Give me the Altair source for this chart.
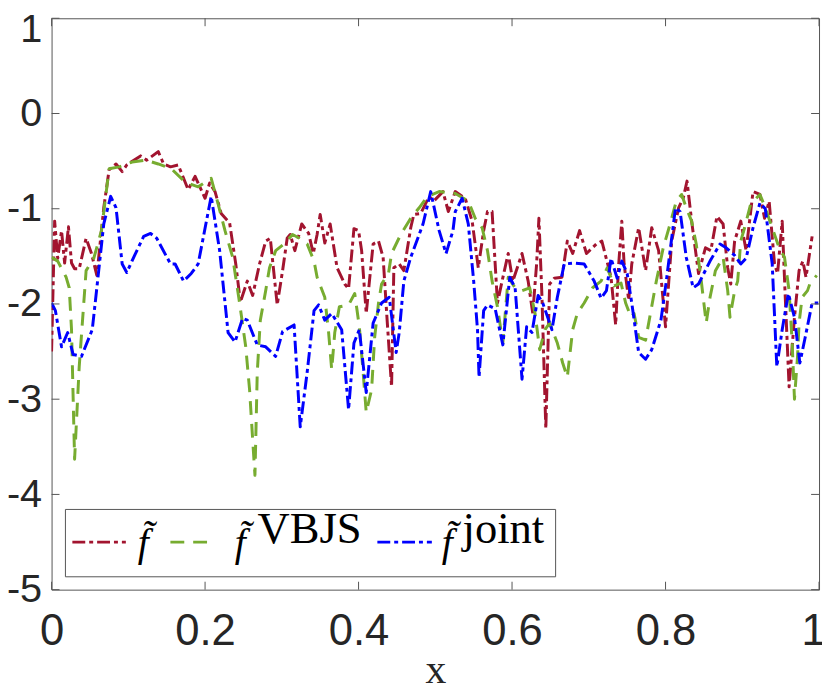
import altair as alt
import pandas as pd

# ---- data ----
red_pts = [(0.000,-2.50),(0.004,-1.13),(0.008,-1.52),(0.013,-1.23),(0.017,-1.57),(0.022,-1.19),(0.026,-1.57),
 (0.030,-1.63),(0.036,-1.63),(0.045,-1.31),(0.052,-1.47),(0.059,-1.70),(0.068,-0.99),(0.075,-0.59),(0.084,-0.53),
 (0.092,-0.61),(0.098,-0.54),(0.116,-0.445),(0.124,-0.49),(0.139,-0.40),(0.146,-0.53),(0.155,-0.56),(0.165,-0.54),
 (0.178,-0.80),(0.187,-0.66),(0.200,-0.89),(0.206,-0.73),(0.213,-0.82),(0.221,-1.05),(0.232,-1.15),(0.240,-1.58),
 (0.246,-1.98),(0.255,-1.76),(0.262,-1.91),(0.271,-1.58),(0.279,-1.34),(0.285,-1.31),(0.294,-2.01),(0.301,-1.65),
 (0.307,-1.31),(0.311,-1.27),(0.317,-1.44),(0.326,-1.16),(0.335,-1.26),(0.341,-1.47),(0.346,-1.27),(0.350,-1.06),
 (0.356,-1.36),(0.363,-1.16),(0.372,-1.62),(0.382,-1.79),(0.387,-1.84),(0.394,-1.21),(0.400,-1.23),(0.404,-1.44),
 (0.410,-2.10),(0.419,-1.37),(0.426,-1.34),(0.432,-1.51),(0.437,-2.14),(0.443,-2.87),(0.446,-1.62),(0.453,-1.58),
 (0.459,-1.65),(0.468,-1.20),(0.472,-1.06),(0.481,-1.05),(0.492,-0.87),(0.498,-0.92),(0.510,-0.82),(0.517,-1.03),
 (0.526,-0.82),(0.539,-0.89),(0.548,-1.13),(0.556,-1.62),(0.563,-1.23),(0.568,-1.03),(0.574,-1.03),(0.581,-1.99),
 (0.587,-1.76),(0.595,-1.47),(0.601,-1.76),(0.613,-1.47),(0.621,-1.76),(0.627,-2.10),(0.632,-1.58),(0.635,-1.10),
 (0.639,-1.93),(0.644,-3.31),(0.649,-1.79),(0.655,-1.73),(0.665,-1.72),(0.672,-1.34),(0.679,-1.47),(0.688,-1.23),
 (0.697,-1.47),(0.710,-1.37),(0.717,-1.34),(0.729,-1.72),(0.735,-2.22),(0.739,-1.58),(0.743,-1.13),(0.746,-1.58),
 (0.752,-1.96),(0.756,-1.58),(0.765,-1.20),(0.774,-1.65),(0.782,-1.20),(0.791,-1.44),(0.800,-2.24),(0.808,-1.34),
 (0.817,-0.99),(0.823,-0.89),(0.828,-0.71),(0.834,-1.13),(0.843,-1.68),(0.852,-1.41),(0.859,-1.44),(0.867,-1.08),
 (0.875,-1.16),(0.881,-1.62),(0.885,-1.79),(0.890,-1.34),(0.898,-1.13),(0.905,-1.44),(0.914,-0.82),(0.923,-0.85),
 (0.929,-1.10),(0.935,-0.92),(0.942,-1.58),(0.946,-1.68),(0.952,-1.13),(0.956,-1.93),(0.961,-2.87),(0.968,-2.14),
 (0.974,-1.65),(0.979,-1.55),(0.983,-1.72),(0.991,-1.29)]

green_pts = [(0.000,-1.51),(0.008,-1.55),(0.019,-1.72),(0.023,-1.83),(0.026,-2.27),(0.030,-3.63),(0.036,-2.66),
 (0.045,-1.65),(0.055,-1.52),(0.065,-1.23),(0.075,-0.58),(0.088,-0.56),(0.105,-0.51),(0.123,-0.49),(0.139,-0.53),
 (0.156,-0.58),(0.174,-0.72),(0.191,-0.77),(0.208,-0.68),(0.217,-0.95),(0.226,-1.23),(0.236,-1.51),(0.245,-1.99),
 (0.253,-2.45),(0.258,-2.90),(0.262,-3.42),(0.265,-3.80),(0.268,-2.72),(0.272,-2.17),(0.279,-1.86),(0.284,-1.62),
 (0.292,-1.44),(0.303,-1.37),(0.314,-1.27),(0.323,-1.31),(0.333,-1.37),(0.342,-1.55),(0.346,-1.72),(0.356,-1.93),
 (0.361,-2.30),(0.365,-2.69),(0.369,-2.30),(0.375,-2.03),(0.387,-2.01),(0.395,-1.89),(0.401,-2.24),(0.406,-2.72),
 (0.410,-3.14),(0.417,-2.90),(0.421,-2.35),(0.426,-1.99),(0.430,-1.79),(0.439,-1.68),(0.443,-1.47),(0.455,-1.27),
 (0.468,-1.10),(0.479,-0.99),(0.490,-0.87),(0.505,-0.82),(0.526,-0.84),(0.543,-0.92),(0.552,-1.10),(0.561,-1.20),
 (0.568,-1.44),(0.574,-1.76),(0.581,-2.03),(0.588,-2.41),(0.595,-1.72),(0.604,-1.83),(0.613,-1.86),(0.623,-1.83),
 (0.630,-2.10),(0.636,-2.48),(0.643,-2.27),(0.649,-2.20),(0.659,-2.41),(0.666,-2.62),(0.672,-2.77),(0.679,-2.27),
 (0.685,-2.10),(0.694,-1.99),(0.705,-1.83),(0.716,-1.76),(0.724,-1.62),(0.733,-1.81),(0.742,-1.78),(0.748,-1.99),
 (0.755,-2.14),(0.759,-2.10),(0.765,-2.35),(0.774,-2.38),(0.781,-2.07),(0.788,-1.76),(0.797,-1.41),(0.806,-1.16),
 (0.814,-0.92),(0.821,-0.85),(0.827,-0.99),(0.834,-1.13),(0.840,-1.37),(0.846,-1.72),(0.853,-2.20),(0.858,-1.93),
 (0.865,-1.65),(0.875,-1.51),(0.881,-1.86),(0.884,-2.14),(0.890,-1.86),(0.894,-1.76),(0.898,-1.34),(0.903,-1.20),
 (0.911,-0.95),(0.923,-0.85),(0.930,-0.99),(0.939,-1.20),(0.948,-1.41),(0.955,-1.51),(0.961,-1.86),(0.965,-2.41),
 (0.968,-3.00),(0.972,-2.55),(0.974,-2.20),(0.978,-1.93),(0.985,-1.86),(0.988,-1.79),(0.997,-1.70)]

blue_pts = [(0.000,-1.99),(0.005,-2.07),(0.013,-2.45),(0.021,-2.30),(0.028,-2.53),(0.039,-2.55),(0.053,-2.27),
 (0.059,-1.83),(0.068,-1.16),(0.077,-0.87),(0.084,-0.99),(0.092,-1.58),(0.098,-1.67),(0.107,-1.51),(0.120,-1.29),
 (0.129,-1.26),(0.137,-1.31),(0.155,-1.58),(0.161,-1.58),(0.172,-1.76),(0.182,-1.68),(0.191,-1.58),(0.208,-0.87),
 (0.219,-1.44),(0.230,-2.30),(0.239,-2.40),(0.249,-2.15),(0.255,-2.17),(0.268,-2.43),(0.279,-2.45),(0.292,-2.55),
 (0.301,-2.29),(0.316,-2.22),(0.324,-3.29),(0.333,-2.72),(0.342,-2.07),(0.348,-2.01),(0.356,-2.17),(0.365,-2.10),
 (0.378,-2.27),(0.387,-3.11),(0.394,-2.41),(0.401,-2.27),(0.410,-2.93),(0.419,-2.20),(0.430,-1.99),(0.440,-1.93),
 (0.449,-2.51),(0.453,-2.30),(0.459,-1.76),(0.468,-1.51),(0.484,-1.16),(0.494,-0.82),(0.505,-1.23),(0.514,-1.47),
 (0.523,-1.23),(0.526,-1.03),(0.535,-0.89),(0.543,-1.16),(0.550,-1.76),(0.555,-2.27),(0.557,-2.77),(0.563,-2.07),
 (0.568,-2.01),(0.578,-2.05),(0.588,-2.43),(0.597,-1.72),(0.604,-1.83),(0.613,-2.79),(0.619,-2.24),(0.626,-2.30),
 (0.634,-1.91),(0.640,-1.99),(0.652,-2.27),(0.659,-1.93),(0.668,-1.58),(0.681,-1.57),(0.694,-1.58),(0.707,-1.76),
 (0.716,-1.94),(0.723,-1.86),(0.729,-1.52),(0.737,-1.73),(0.743,-1.55),(0.750,-1.68),(0.756,-1.99),(0.765,-2.51),
 (0.774,-2.58),(0.782,-2.48),(0.794,-2.17),(0.801,-1.76),(0.813,-0.99),(0.819,-1.03),(0.827,-1.51),(0.836,-1.83),
 (0.843,-1.79),(0.858,-1.55),(0.871,-1.37),(0.879,-1.41),(0.890,-1.49),(0.898,-1.58),(0.905,-1.52),(0.914,-1.20),
 (0.923,-0.94),(0.930,-1.00),(0.939,-1.58),(0.945,-2.66),(0.952,-2.27),(0.960,-1.89),(0.968,-2.14),(0.975,-2.62),
 (0.982,-2.35),(0.991,-1.99),(0.999,-1.99)]

x_ticks = [0, 0.2, 0.4, 0.6, 0.8, 1]
y_ticks = [-5, -4, -3, -2, -1, 0, 1]

W, H = 775, 577
RED, GREEN, BLUE = "#A2142F", "#77AC30", "#0000FF"
DASHDOT = [13, 4, 4, 4]
DASHED = [14, 9]
AX = "#555555"
TXT = "#262626"

xs = alt.Scale(domain=[0, 1], nice=False, zero=False)
ys = alt.Scale(domain=[-5, 1], nice=False, zero=False)

def xaxis():
    return alt.Axis(values=x_ticks, title="x", labelExpr="'' + datum.value", grid=False,
                    domain=False, ticks=False, tickSize=0, labelFont="Liberation Sans",
                    labelFontSize=44, labelColor=TXT, labelPadding=20, labelFlush=False,
                    labelOverlap=False,
                    labelOffset={"condition": {"test": "datum.value == 1", "value": -6}, "value": 0},
                    titleFont="Liberation Serif", titleFontSize=42,
                    titleFontWeight="normal", titleColor=TXT, titlePadding=-3)

def yaxis():
    return alt.Axis(values=y_ticks, title=None, labelExpr="'' + datum.value", grid=False,
                    domain=False, ticks=False, tickSize=0, labelFont="Liberation Sans",
                    labelFontSize=40, labelColor=TXT, labelPadding=10, labelFlush=False,
                    labelOverlap=False,
                    labelOffset={"condition": {"test": "datum.value == 1", "value": 11}, "value": 0})

def series_df(pts):
    return pd.DataFrame(pts, columns=["x", "y"])

layers = []
for pts, color, dash in [(red_pts, RED, DASHDOT), (green_pts, GREEN, DASHED), (blue_pts, BLUE, DASHDOT)]:
    layers.append(
        alt.Chart(series_df(pts)).mark_line(color=color, strokeWidth=3, strokeDash=dash,
                                             strokeCap="butt", strokeJoin="round", clip=True)
        .encode(x=alt.X("x:Q", scale=xs, axis=xaxis()), y=alt.Y("y:Q", scale=ys, axis=yaxis()))
    )

xt = pd.DataFrame({"v": x_ticks})
yt = pd.DataFrame({"v": y_ticks})
tick_bottom = alt.Chart(xt).mark_rule(color=AX, strokeWidth=1).encode(
    x=alt.X("v:Q", scale=xs, axis=xaxis()), y=alt.value(H - 8), y2=alt.value(H))
tick_top = alt.Chart(xt).mark_rule(color=AX, strokeWidth=1).encode(
    x=alt.X("v:Q", scale=xs, axis=xaxis()), y=alt.value(0), y2=alt.value(8))
tick_left = alt.Chart(yt).mark_rule(color=AX, strokeWidth=1).encode(
    y=alt.Y("v:Q", scale=ys, axis=yaxis()), x=alt.value(0), x2=alt.value(8))
tick_right = alt.Chart(yt).mark_rule(color=AX, strokeWidth=1).encode(
    y=alt.Y("v:Q", scale=ys, axis=yaxis()), x=alt.value(W - 8), x2=alt.value(W))

one = pd.DataFrame({"k": [0]})
leg_box = alt.Chart(one).mark_rect(fill="white", stroke=AX, strokeWidth=1).encode(
    x=alt.value(14), x2=alt.value(509), y=alt.value(496), y2=alt.value(564))

def sample(x1, x2, color, dash):
    return alt.Chart(one).mark_rule(color=color, strokeWidth=3, strokeDash=dash, strokeCap="butt").encode(
        x=alt.value(x1), x2=alt.value(x2), y=alt.value(529))

def label(txt, x, y, size, italic=False, align="left"):
    return alt.Chart(one).mark_text(text=txt, font="Liberation Serif", fontSize=size,
                                    fontStyle="italic" if italic else "normal", color="black",
                                    align=align, baseline="alphabetic").encode(
        x=alt.value(x), y=alt.value(y))

FT = "f\u0303"
leg = [
    leg_box,
    sample(21, 75, RED, DASHDOT),
    label(FT, 87, 543, 40, italic=True),
    sample(120, 163, GREEN, DASHED),
    label(FT, 185, 543, 40, italic=True),
    label("VBJS", 208, 530, 45),
    sample(329, 384, BLUE, DASHDOT),
    label(FT, 394, 543, 40, italic=True),
    label("joint", 415, 530, 45),
]

chart = alt.layer(*layers, tick_bottom, tick_top, tick_left, tick_right, *leg).properties(
    width=W, height=H,
    padding={"left": 44, "top": 7, "right": 3, "bottom": 103},
    autosize=alt.AutoSizeParams(type="none"),
    background="white",
).configure_view(stroke=AX, strokeWidth=1)

chart.save("out.html", embed_options={"renderer": "svg", "actions": False})
